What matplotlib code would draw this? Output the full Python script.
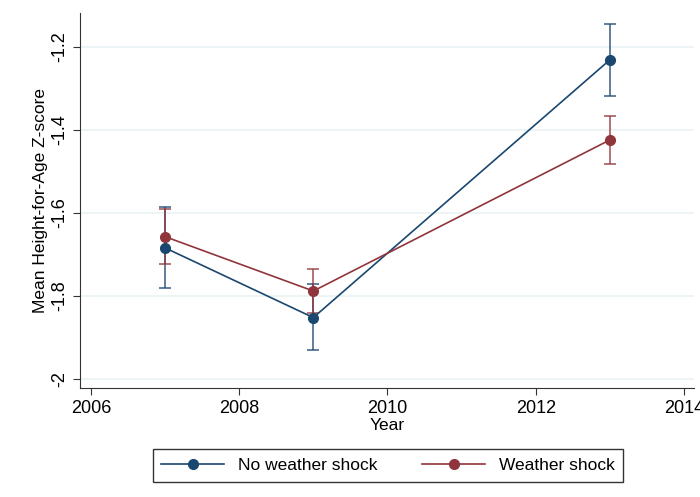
import matplotlib.pyplot as plt

years = [2007, 2009, 2013]
no_shock = [-1.684, -1.852, -1.231]
no_shock_lo = [-1.780, -1.931, -1.318]
no_shock_hi = [-1.585, -1.770, -1.144]
shock = [-1.657, -1.788, -1.424]
shock_lo = [-1.723, -1.841, -1.482]
shock_hi = [-1.591, -1.735, -1.366]

blue = '#1a476f'
red = '#90353b'

plt.rcParams['font.family'] = ['Liberation Sans', 'DejaVu Sans']

fig = plt.figure(figsize=(7, 4.97), dpi=100)
ax = fig.add_axes([0.114, 0.219, 0.878, 0.755])

for y, lo, hi, c, lab in [(no_shock, no_shock_lo, no_shock_hi, blue, 'No weather shock'),
                           (shock, shock_lo, shock_hi, red, 'Weather shock')]:
    err = [[v - l for v, l in zip(y, lo)], [h - v for v, h in zip(y, hi)]]
    ax.errorbar(years, y, yerr=err, fmt='none', ecolor=c, alpha=0.75,
                elinewidth=1.3, capsize=4.5, capthick=1.3, zorder=2)
    ax.plot(years, y, color=c, lw=1.2, marker='o', ms=7, label=lab, zorder=3)

ax.set_xlim(2005.85, 2014.14)
ax.set_ylim(-2.022, -1.118)
ax.set_xticks([2006, 2008, 2010, 2012, 2014])
ax.set_yticks([-2, -1.8, -1.6, -1.4, -1.2])
ax.set_yticklabels(['-2', '-1.8', '-1.6', '-1.4', '-1.2'], rotation=90, va='center')
ax.tick_params(labelsize=13, length=5, color='#333333')
ax.grid(axis='y', color='#eaf2f3', lw=1.2)
ax.set_axisbelow(True)
for s in ['top', 'right']:
    ax.spines[s].set_visible(False)
ax.spines['left'].set_color('#333333')
ax.spines['bottom'].set_color('#333333')
ax.set_xlabel('Year', fontsize=12.5, labelpad=1)
ax.set_ylabel('Mean Height-for-Age Z-score', fontsize=12.5, labelpad=2)

leg = fig.legend(loc='center', bbox_to_anchor=(388 / 700, 1 - 465.5 / 497), ncol=2,
                 fontsize=12.5, frameon=True, fancybox=False, edgecolor='black',
                 handlelength=3.6, columnspacing=2.6, borderpad=0.5)
leg.get_frame().set_linewidth(1.0)

fig.savefig('out.png', dpi=100)
